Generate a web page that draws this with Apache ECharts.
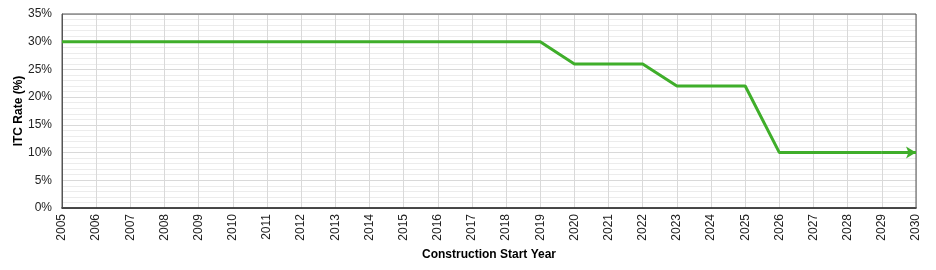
<!DOCTYPE html>
<html>
<head>
<meta charset="utf-8">
<script src="https://cdn.jsdelivr.net/npm/echarts@6/dist/echarts.min.js"></script>
<style>
html, body { margin: 0; padding: 0; background: #fff; }
#chart { width: 936px; height: 270px; }
</style>
</head>
<body>
<div id="chart"></div>
<script>
var years = [2005, 2006, 2007, 2008, 2009, 2010, 2011, 2012, 2013, 2014, 2015, 2016, 2017,
    2018, 2019, 2020, 2021, 2022, 2023, 2024, 2025, 2026, 2027, 2028, 2029, 2030];
var itcRate = [30, 30, 30, 30, 30, 30, 30, 30, 30, 30, 30, 30, 30,
    30, 30, 26, 26, 26, 22, 22, 22, 10, 10, 10, 10, 10];

var font = 'Liberation Sans, Arial, sans-serif';
var green = '#3fae2a';

var points = years.map(function (y, i) { return [y, itcRate[i]]; });
var n = points.length;

var option = {
    animation: false,
    grid: { left: 62, right: 20, top: 14, bottom: 62, outerBoundsMode: 'none', containLabel: false },
    xAxis: {
        type: 'value',
        min: 2005,
        max: 2030,
        interval: 1,
        name: 'Construction Start Year',
        nameLocation: 'middle',
        nameGap: 41,
        nameMoveOverlap: false,
        nameTextStyle: { fontFamily: font, fontSize: 12, fontWeight: 'bold', color: '#000' },
        axisLine: { show: true, lineStyle: { color: '#000', width: 1.5 } },
        axisTick: { show: false },
        axisLabel: {
            rotate: 90, fontFamily: font, fontSize: 12, color: '#222', margin: 6,
            formatter: function (v) { return String(v); }
        },
        splitLine: { show: true, lineStyle: { color: '#d9d9d9', width: 1 } }
    },
    yAxis: {
        type: 'value',
        min: 0,
        max: 35,
        interval: 5,
        name: 'ITC Rate (%)',
        nameLocation: 'middle',
        nameGap: 37,
        nameMoveOverlap: false,
        nameTextStyle: { fontFamily: font, fontSize: 12, fontWeight: 'bold', color: '#000' },
        axisLine: { show: true, lineStyle: { color: '#555', width: 1 } },
        axisTick: { show: false },
        axisLabel: { fontFamily: font, fontSize: 12, color: '#222', margin: 10, formatter: '{value}%' },
        splitLine: { show: true, lineStyle: { color: '#d9d9d9', width: 1 } },
        minorTick: { show: false, splitNumber: 5 },
        minorSplitLine: { show: true, lineStyle: { color: '#ececec', width: 1 } }
    },
    series: [{
        type: 'line',
        data: points.slice(0, n - 1),
        symbol: 'none',
        lineStyle: { color: green, width: 3 },
        z: 5,
        markLine: {
            silent: true,
            symbol: ['none', 'arrow'],
            symbolSize: [9, 10],
            label: { show: false },
            lineStyle: { color: green, width: 3, type: 'solid' },
            data: [[{ coord: points[n - 2] }, { coord: points[n - 1] }]]
        }
    }],
    graphic: [{
        type: 'rect',
        shape: { x: 62, y: 14, width: 854, height: 194 },
        style: { fill: 'none', stroke: '#555', lineWidth: 1 },
        silent: true,
        z: 1
    }]
};

var myChart = echarts.init(document.getElementById('chart'));
myChart.setOption(option);
</script>
</body>
</html>
